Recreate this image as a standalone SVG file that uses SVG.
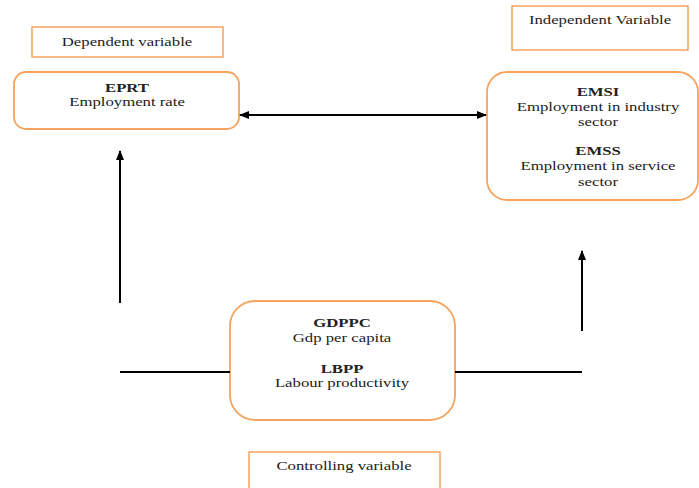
<svg xmlns="http://www.w3.org/2000/svg" width="699" height="488" viewBox="0 0 699 488">
<defs>
<marker id="ah" markerWidth="10" markerHeight="8" refX="9" refY="4" orient="auto-start-reverse" markerUnits="userSpaceOnUse">
<path d="M0,0 L10,4 L0,8 Z" fill="#000"/>
</marker>
<style>
.lbl{fill:#fff;stroke:#f4a460;stroke-width:1.5}
.nd{fill:#fff;stroke:#f4a460;stroke-width:1.8}
text{font-family:"Liberation Serif","Times New Roman",serif;font-size:13.5px;fill:#222;text-anchor:middle}
.b{font-weight:bold}
.ln{stroke:#000;stroke-width:2;fill:none}
</style>
</defs>
<rect width="699" height="488" fill="#fff"/>
<g id="dep-label"><rect class="lbl" x="32" y="27" width="191" height="30"/><text transform="matrix(1.24 0 0 1 127 0)" x="0" y="46">Dependent variable</text></g>
<g id="indep-label"><rect class="lbl" x="512" y="6" width="176" height="44"/><text transform="matrix(1.24 0 0 1 600 0)" x="0" y="24">Independent Variable</text></g>
<g id="ctrl-label"><rect class="lbl" x="249" y="452" width="191" height="40"/><text transform="matrix(1.24 0 0 1 344 0)" x="0" y="470">Controlling variable</text></g>
<g id="eprt"><rect class="nd" x="14" y="72" width="225" height="57" rx="12"/>
<g transform="matrix(1.24 0 0 1 127 0)"><text class="b" x="0" y="92">EPRT</text><text x="0" y="106">Employment rate</text></g></g>
<g id="emsi"><rect class="nd" x="487" y="72" width="211" height="128" rx="20"/>
<g transform="matrix(1.24 0 0 1 598 0)">
<text class="b" x="0" y="96">EMSI</text><text x="0" y="111">Employment in industry</text><text x="0" y="126">sector</text>
<text class="b" x="0" y="155">EMSS</text><text x="0" y="170">Employment in service</text><text x="0" y="186">sector</text></g></g>
<g id="gdppc"><rect class="nd" x="230" y="301" width="225" height="119" rx="25"/>
<g transform="matrix(1.24 0 0 1 342 0)">
<text class="b" x="0" y="327">GDPPC</text><text x="0" y="342">Gdp per capita</text>
<text class="b" x="0" y="373">LBPP</text><text x="0" y="387">Labour productivity</text></g></g>
<g id="connectors">
<line class="ln" x1="240" y1="115" x2="486" y2="115" marker-start="url(#ah)" marker-end="url(#ah)"/>
<line class="ln" x1="120" y1="303" x2="120" y2="151" marker-end="url(#ah)"/>
<line class="ln" x1="582" y1="331" x2="582" y2="251" marker-end="url(#ah)"/>
<line class="ln" x1="120" y1="372" x2="230" y2="372"/>
<line class="ln" x1="455" y1="372" x2="582" y2="372"/>
</g>
</svg>
